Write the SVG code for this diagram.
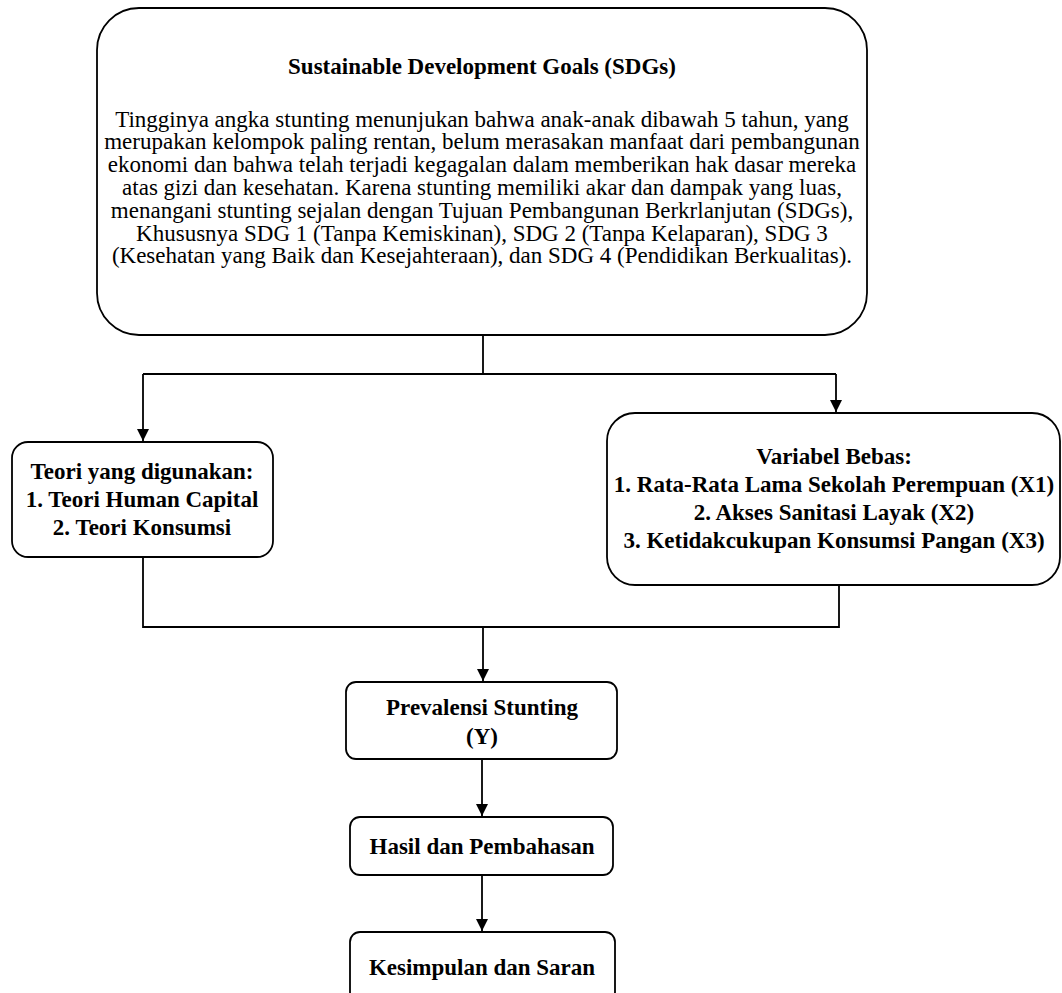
<svg xmlns="http://www.w3.org/2000/svg" width="1062" height="993" viewBox="0 0 1062 993">
<defs>
<style>
.box{fill:#fff;stroke:#000;stroke-width:1.8}
.t{font-family:"Liberation Serif","Times New Roman",serif;font-size:23px;fill:#000;text-anchor:middle}
.b{font-weight:bold}
.c{fill:none;stroke:#000;stroke-width:1.8}
</style>
<marker id="ah" viewBox="0 0 12 12" refX="12" refY="6" markerWidth="12" markerHeight="12" markerUnits="userSpaceOnUse" orient="auto"><path d="M0,0 L12,6 L0,12 z" fill="#000"/></marker>
</defs>
<rect width="1062" height="993" fill="#fff"/>
<g id="connectors">
<path class="c" d="M483,335 V374 M143,374 H836"/>
<path class="c" d="M143,374 V441" marker-end="url(#ah)"/>
<path class="c" d="M836,374 V412" marker-end="url(#ah)"/>
<path class="c" d="M143,557 V627 H839 V585"/>
<path class="c" d="M483,627 V681" marker-end="url(#ah)"/>
<path class="c" d="M482,759 V816" marker-end="url(#ah)"/>
<path class="c" d="M482,875 V931" marker-end="url(#ah)"/>
</g>
<g id="sdgs">
<rect class="box" x="97" y="8" width="770" height="327" rx="42"/>
<text class="t b" x="482" y="74">Sustainable Development Goals (SDGs)</text>
<text class="t" x="482" y="126.5">Tingginya angka stunting menunjukan bahwa anak-anak dibawah 5 tahun, yang</text>
<text class="t" x="482" y="149.3">merupakan kelompok paling rentan, belum merasakan manfaat dari pembangunan</text>
<text class="t" x="482" y="172.1">ekonomi dan bahwa telah terjadi kegagalan dalam memberikan hak dasar mereka</text>
<text class="t" x="482" y="194.9">atas gizi dan kesehatan. Karena stunting memiliki akar dan dampak yang luas,</text>
<text class="t" x="482" y="217.7">menangani stunting sejalan dengan Tujuan Pembangunan Berkrlanjutan (SDGs),</text>
<text class="t" x="482" y="240.5">Khususnya SDG 1 (Tanpa Kemiskinan), SDG 2 (Tanpa Kelaparan), SDG 3</text>
<text class="t" x="482" y="263.3">(Kesehatan yang Baik dan Kesejahteraan), dan SDG 4 (Pendidikan Berkualitas).</text>
</g>
<g id="teori">
<rect class="box" x="12" y="442" width="261" height="115" rx="16"/>
<text class="t b" x="142" y="479">Teori yang digunakan:</text>
<text class="t b" x="142" y="507">1. Teori Human Capital</text>
<text class="t b" x="142" y="535">2. Teori Konsumsi</text>
</g>
<g id="variabel">
<rect class="box" x="607" y="413" width="453" height="172" rx="28"/>
<text class="t b" x="834" y="464">Variabel Bebas:</text>
<text class="t b" x="834" y="492">1. Rata-Rata Lama Sekolah Perempuan (X1)</text>
<text class="t b" x="834" y="520">2. Akses Sanitasi Layak (X2)</text>
<text class="t b" x="834" y="548">3. Ketidakcukupan Konsumsi Pangan (X3)</text>
</g>
<g id="prevalensi">
<rect class="box" x="346" y="682" width="271" height="77" rx="10"/>
<text class="t b" x="482" y="715">Prevalensi Stunting</text>
<text class="t b" x="482" y="744">(Y)</text>
</g>
<g id="hasil">
<rect class="box" x="350" y="817" width="263" height="58" rx="10"/>
<text class="t b" x="482" y="854">Hasil dan Pembahasan</text>
</g>
<g id="kesimpulan">
<rect class="box" x="350" y="932" width="265" height="70" rx="10"/>
<text class="t b" x="482" y="975">Kesimpulan dan Saran</text>
</g>
</svg>
